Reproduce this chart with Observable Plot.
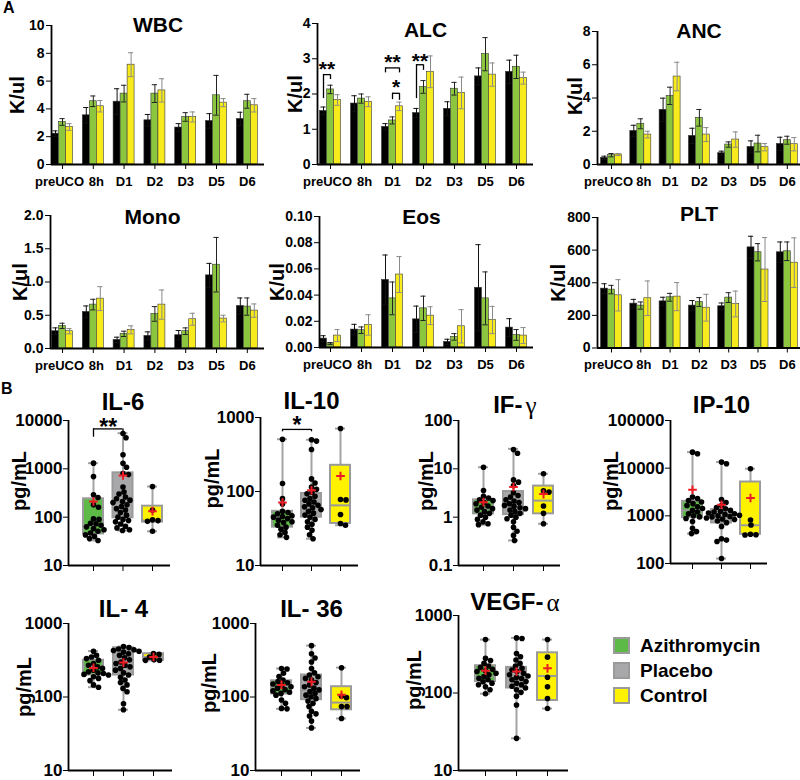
<!DOCTYPE html>
<html><head><meta charset="utf-8">
<script src="https://cdn.jsdelivr.net/npm/d3@7"></script>
<script src="https://cdn.jsdelivr.net/npm/@observablehq/plot@0.6"></script>
<style>
html,body{margin:0;padding:0;background:#fff;overflow:hidden;}
#fig{position:relative;width:800px;height:780px;overflow:hidden;font-family:"Liberation Sans",Arial,sans-serif;font-weight:bold;color:#000;}
.lab{position:absolute;font-size:16px;line-height:16px;}
.leg{position:absolute;display:flex;align-items:center;font-size:19px;line-height:19px;}
.sw{width:13px;height:13px;border:2px solid #9a9a9a;margin-right:10px;}
</style></head><body><div id="fig"></div>
<script>
// ---------- Panel A data ----------
const times = ["preUCO","8h","D1","D2","D3","D5","D6"];
const barSeries = ["Placebo","Azithromycin","Control"];
const barColors = ["#000000","#8cc63f","#f7ea1d"];
const errColors = ["#111111","#222222","#8a8a8a"];

const wbcMean = [[2.22,3.06,2.70],[3.54,4.55,4.19],[4.52,5.10,7.18],[3.18,5.10,5.33],[2.66,3.42,3.42],[3.13,4.98,4.45],[3.28,4.55,4.26]];
const wbcErr  = [[0.20,0.24,0.24],[0.56,0.38,0.41],[0.93,0.60,0.86],[0.42,0.64,0.84],[0.28,0.31,0.36],[0.53,1.43,0.29],[0.48,0.50,0.48]];
const alcMean = [[1.52,2.13,1.83],[1.73,1.87,1.78],[1.07,1.25,1.65],[1.46,2.20,2.63],[1.58,2.15,2.03],[2.50,3.13,2.55],[2.63,2.77,2.45]];
const alcErr  = [[0.11,0.12,0.15],[0.22,0.13,0.14],[0.09,0.10,0.12],[0.13,0.18,0.45],[0.20,0.18,0.45],[0.24,0.47,0.33],[0.33,0.33,0.17]];
const ancMean = [[0.40,0.56,0.60],[2.02,2.45,1.80],[3.29,4.13,5.29],[1.72,2.81,1.80],[0.68,1.20,1.50],[1.06,1.26,1.04],[1.24,1.46,1.22]];
const ancErr  = [[0.10,0.10,0.06],[0.34,0.30,0.20],[0.70,0.52,0.86],[0.46,0.50,0.42],[0.12,0.16,0.46],[0.36,0.50,0.22],[0.40,0.24,0.40]];
const monoMean = [[0.26,0.34,0.26],[0.55,0.66,0.75],[0.13,0.22,0.28],[0.19,0.52,0.66],[0.20,0.26,0.44],[1.10,1.26,0.45],[0.64,0.63,0.57]];
const monoErr  = [[0.05,0.04,0.04],[0.09,0.08,0.18],[0.04,0.04,0.06],[0.06,0.11,0.22],[0.07,0.05,0.09],[0.18,0.41,0.05],[0.12,0.13,0.10]];
const eosMean = [[0.0068,0.0030,0.0091],[0.0137,0.0132,0.0172],[0.0516,0.0375,0.0557],[0.0215,0.0299,0.0243],[0.0043,0.0081,0.0162],[0.0456,0.0375,0.0210],[0.0152,0.0096,0.0091]];
const eosErr  = [[0.0022,0.0008,0.0046],[0.0040,0.0025,0.0078],[0.0190,0.0125,0.0137],[0.0101,0.0093,0.0068],[0.0020,0.0025,0.0127],[0.0329,0.0202,0.0104],[0.0068,0.0041,0.0061]];
const pltMean = [[364,358,323],[272,260,305],[286,311,315],[260,282,247],[256,309,270],[617,587,481],[587,593,523]];
const pltErr  = [[30,26,96],[26,22,106],[25,24,86],[31,27,82],[20,30,79],[68,53,196],[63,57,152]];

// ALC significance brackets (series index a -> b, values in K/ul)
const alcSig = [
  {time:"preUCO", a:0, b:1, y:2.55, ya:1.87, yb:2.41, ty:2.84, label:"**"},
  {time:"D1", a:0, b:2, y:2.74, ya:2.60, yb:2.60, ty:3.04, label:"**"},
  {time:"D1", a:1, b:2, y:2.02, ya:1.84, yb:1.82, ty:2.33, label:"*"},
  {time:"D2", a:0, b:1, y:2.83, ya:1.87, yb:2.67, ty:3.06, label:"**"}
];

// ---------- Panel B data ----------
const boxGroups = ["Azithromycin","Placebo","Control"];
const boxFills = ["#5dba47","#a8a8aa","#fff200"];

const il6Azi = [1310,690,290,255,180,160,92,90,75,73,68,63,58,55,51,47,43,40,36,33];
const il6Pla = [5400,4400,1950,1300,1080,800,760,420,330,300,260,240,225,210,200,180,165,150,140,125,110,100,90,85,80,72,65,60,55,53];
const il6Ctl = [430,140,88,85,82,51];
const il6Stats = [[33,45,68,240,1310,211],[53,97,200,826,5470,728],[51,79,85,169,430,133]];
const il6Sig = [{a:0,b:1,y:6700,ya:4500,yb:5400,ty:9300,label:"**"}];

const il10Azi = [509,128,80,68,54,52,50,47,46,45,43,41,39,38,35,33,31,28,26,24];
const il10Pla = [500,480,370,148,130,115,107,98,93,86,80,76,72,68,65,62,60,57,54,51,48,45,42,39,36,33,30,26,23];
const il10Ctl = [710,78,77,49,37,35];
const il10Stats = [[24,33,45,54,509,71],[23,45,65,94,500,104],[35,37,65,226,710,162]];
const il10Sig = [{a:0,b:1,y:690,ya:640,yb:640,ty:930,label:"*"}];

const ifgAzi = [10.8,3.56,2.7,2.5,2.3,2.2,2.0,1.9,1.7,1.6,1.5,1.4,1.3,1.2,1.1,1.0,0.9,0.8,0.73,0.7];
const ifgPla = [25,21,5.9,5.3,4.5,3.2,2.8,2.6,2.3,2.15,2.0,1.9,1.75,1.67,1.57,1.5,1.4,1.3,1.2,1.1,1.0,0.93,0.8,0.62,0.51,0.42,0.33];
const ifgCtl = [7.9,3.5,3.3,1.7,1.2,0.73];
const ifgStats = [[0.7,1.17,1.5,2.28,10.8,2.04],[0.33,1.13,1.9,3.4,25.9,4.2],[0.73,1.17,2.2,4.4,7.9,3.0]];

const ip10Azi = [21700,20000,2480,2300,2100,1950,1800,1650,1550,1420,1300,1200,1100,1000,950,880,760,550,470,424];
const ip10Pla = [13400,12400,2200,1900,1650,1500,1400,1300,1250,1200,1150,1100,1070,1030,1000,970,950,900,860,840,780,720,600,330,310,290,127];
const ip10Ctl = [9700,820,640,410,400,395];
const ip10Stats = [[424,916,1300,2013,21700,3530],[127,708,1070,1350,13400,1710],[395,410,634,5120,9730,2370]];

const il4Azi = [420,368,350,333,316,285,270,257,245,232,220,213,209,203,199,189,179,167,146,136];
const il4Pla = [486,470,450,440,430,420,408,388,368,342,320,300,285,270,257,245,232,213,199,185,170,157,146,131,118,81,67];
const il4Ctl = [390,380,350,320,316,315];
const il4Stats = [[136,199,262,316,421,249],[67,199,300,467,486,294],[315,316,350,388,395,350]];

const il36Azi = [244,240,210,190,170,162,156,150,144,138,132,126,121,116,112,106,91,82,70,69];
const il36Pla = [500,387,340,300,244,213,199,189,179,170,157,146,138,132,125,119,112,106,101,95,88,82,74,64,59,55,47,38];
const il36Ctl = [250,102,98,74,74,51];
const il36Stats = [[69,110,138,166,244,146],[38,92,125,199,500,161],[51,67,84,138,251,107]];

const vegfAzi = [489,280,262,241,223,214,202,194,189,180,172,163,155,148,140,134,128,120,110,98];
const vegfPla = [514,504,324,293,267,241,223,209,198,189,180,172,166,160,154,148,141,134,128,122,116,110,102,91,70,26];
const vegfCtl = [490,290,160,120,85,63];
const vegfStats = [[98,141,163,225,489,194],[26,116,163,214,514,189],[63,80,166,330,489,208]];

// ---------- helpers ----------
const fig = document.getElementById("fig");
const FONT = '"Liberation Sans", Arial, Helvetica, sans-serif';
function place(el, box){ el.style.position="absolute"; el.style.left=box.left+"px"; el.style.top=box.top+"px"; fig.appendChild(el); }
function margins(box, f){ return {marginLeft:f.x0-box.left, marginRight:box.left+box.width-f.x1, marginTop:f.y0-box.top, marginBottom:box.top+box.height-f.y1}; }

function barPanel(p){
  const period = p.period;
  const xDomain = [(p.frame.x0-p.c0)/period, (p.frame.x1-p.c0)/period];
  const bw = 7/period, cap = 2.6/period;
  const rows = [];
  times.forEach((t,gi)=>barSeries.forEach((s,si)=>rows.push({time:t, series:s, gi, si, mean:p.means[gi][si], err:p.errs[gi][si]})));
  const xa = d=>d.gi+(d.si-1.5)*bw, xb = d=>d.gi+(d.si-0.5)*bw, xc = d=>d.gi+(d.si-1)*bw;
  const labels = times.map((t,i)=>({t,i}));
  const lab = {x:"i", text:"t", frameAnchor:"bottom", lineAnchor:"top", dy:12, fontSize:13, fontWeight:"bold"};
  const marks = [
    Plot.rect(rows,{x1:xa, x2:xb, y1:()=>0, y2:"mean", fill:d=>barColors[d.si], stroke:"#3a3a3a", strokeWidth:0.6}),
    Plot.ruleX(rows,{x:xc, y1:d=>d.mean-d.err, y2:d=>d.mean+d.err, stroke:d=>errColors[d.si], strokeWidth:1}),
    Plot.ruleY(rows,{y:d=>d.mean+d.err, x1:d=>xc(d)-cap, x2:d=>xc(d)+cap, stroke:d=>errColors[d.si], strokeWidth:1}),
    Plot.ruleY(rows,{y:d=>d.mean-d.err, x1:d=>xc(d)-cap, x2:d=>xc(d)+cap, stroke:d=>errColors[d.si], strokeWidth:1}),
    Plot.ruleY([p.yDomain[0]],{stroke:"#000", strokeWidth:1.8}),
    Plot.ruleX([xDomain[0]],{stroke:"#000", strokeWidth:1.8}),
    Plot.text(labels.filter(d=>d.i===0),{...lab, dx:-3}),
    Plot.text(labels.filter(d=>d.i===1),{...lab, dx:3}),
    Plot.text(labels.filter(d=>d.i>1),lab),
    Plot.text([p.title],{frameAnchor:"top", text:d=>d, fontSize:21, fontWeight:"bold", lineAnchor:"middle", dx:p.tdx||0, dy:p.tdy||0}),
    Plot.text(["K/ul"],{frameAnchor:"left", text:d=>d, rotate:-90, textAnchor:"middle", lineAnchor:"middle", fontSize:20, fontWeight:"bold", dx:p.ldx, dy:p.ldy||0})
  ];
  if (p.sig){
    const sig = p.sig.map(d=>({...d, gi:times.indexOf(d.time)}));
    const sx = (d,s)=>d.gi+(s-1)*bw;
    marks.push(
      Plot.ruleY(sig,{y:"y", x1:d=>sx(d,d.a), x2:d=>sx(d,d.b), stroke:"#000", strokeWidth:1.3}),
      Plot.ruleX(sig,{x:d=>sx(d,d.a), y1:"ya", y2:"y", stroke:"#000", strokeWidth:1.3}),
      Plot.ruleX(sig,{x:d=>sx(d,d.b), y1:"yb", y2:"y", stroke:"#000", strokeWidth:1.3}),
      Plot.text(sig,{x:d=>(sx(d,d.a)+sx(d,d.b))/2, y:"ty", text:"label", fontSize:21, fontWeight:"bold", lineAnchor:"middle", dy:5})
    );
  }
  const svg = Plot.plot({
    width:p.box.width, height:p.box.height, ...margins(p.box,p.frame),
    x:{type:"linear", domain:xDomain, ticks:d3.range(times.length), tickFormat:()=>"", tickSize:5, label:null},
    y:{type:"linear", domain:p.yDomain, ticks:p.yTicks, tickFormat:p.fmt, tickSize:5, tickPadding:2, label:null},
    color:{type:"identity"},
    style:{fontFamily:FONT, fontWeight:"bold", fontSize:"14px", background:"transparent", overflow:"visible", color:"#000"},
    marks
  });
  place(svg,p.box);
}

function swarm(vals, yPix, r){
  const idx = d3.range(vals.length).sort((a,b)=>vals[b]-vals[a]);
  const placed = [], out = new Array(vals.length), dmin = 2*r*0.92;
  for (const i of idx){
    const y = yPix(vals[i]);
    let x = 0;
    for (let k=0;k<400;k++){
      const c = (k%2?1:-1)*Math.ceil(k/2)*0.5;
      if (placed.every(p=>(p.x-c)**2+(p.y-y)**2 >= dmin*dmin)){ x = c; break; }
    }
    placed.push({x,y}); out[i]=x;
  }
  return out;
}

function boxPanel(p){
  const period = p.period;
  const xDomain = [(p.frame.x0-p.c0)/period, (p.frame.x1-p.c0)/period];
  const yPix = d3.scaleLog().domain(p.yDomain).range([p.frame.y1, p.frame.y0]);
  const half = 10/period, capw = 5/period, R = 2.8;
  const points = [];
  p.pts.forEach((vals,g)=>{ const off = swarm(vals,yPix,R); vals.forEach((v,i)=>points.push({g, group:boxGroups[g], v, xo:off[i]/period})); });
  const boxes = p.stats.map((s,g)=>({g, group:boxGroups[g], min:s[0], q1:s[1], med:s[2], q3:s[3], max:s[4], mean:s[5]}));
  const marks = [
    Plot.ruleX(boxes,{x:"g", y1:"min", y2:"max", stroke:"#a3a3a3", strokeWidth:2}),
    Plot.ruleY(boxes,{y:"max", x1:d=>d.g-capw, x2:d=>d.g+capw, stroke:"#a3a3a3", strokeWidth:2}),
    Plot.ruleY(boxes,{y:"min", x1:d=>d.g-capw, x2:d=>d.g+capw, stroke:"#a3a3a3", strokeWidth:2}),
    Plot.rect(boxes,{x1:d=>d.g-half, x2:d=>d.g+half, y1:"q1", y2:"q3", fill:d=>boxFills[d.g], stroke:"#9a9a9a", strokeWidth:2}),
    Plot.ruleY(boxes,{y:"med", x1:d=>d.g-half, x2:d=>d.g+half, stroke:"#9a9a9a", strokeWidth:2}),
    Plot.dot(points,{x:d=>d.g+d.xo, y:"v", r:R, fill:"#000"}),
    Plot.dot(boxes,{x:"g", y:"mean", symbol:"plus", r:2.9, stroke:"#ed1c24", strokeWidth:2}),
    Plot.ruleY([p.yDomain[0]],{stroke:"#000", strokeWidth:1.8}),
    Plot.ruleX([xDomain[0]],{stroke:"#000", strokeWidth:1.8}),
    Plot.text(["pg/mL"],{frameAnchor:"left", text:d=>d, rotate:-90, textAnchor:"middle", lineAnchor:"middle", fontSize:20, fontWeight:"bold", dx:p.ldx, dy:p.ldy||0})
  ];
  if (p.greek){
    marks.push(
      Plot.text([{t:p.title, g:1}],{x:"g", text:"t", frameAnchor:"top", textAnchor:"end", lineAnchor:"middle", fontSize:24, fontWeight:"bold", dx:p.gdx, dy:p.tdy}),
      Plot.text([{t:p.greek, g:1}],{x:"g", text:"t", frameAnchor:"top", textAnchor:"start", lineAnchor:"middle", fontSize:25, fontWeight:"normal", fontFamily:'"Liberation Serif","DejaVu Serif",serif', dx:p.gdx+3, dy:p.tdy})
    );
  } else {
    marks.push(Plot.text([{t:p.title, g:1}],{x:"g", text:"t", frameAnchor:"top", lineAnchor:"middle", fontSize:24, fontWeight:"bold", dy:p.tdy}));
  }
  if (p.sig){
    marks.push(
      Plot.ruleY(p.sig,{y:"y", x1:"a", x2:"b", stroke:"#000", strokeWidth:1.3}),
      Plot.ruleX(p.sig,{x:"a", y1:"ya", y2:"y", stroke:"#000", strokeWidth:1.3}),
      Plot.ruleX(p.sig,{x:"b", y1:"yb", y2:"y", stroke:"#000", strokeWidth:1.3}),
      Plot.text(p.sig,{x:d=>(d.a+d.b)/2, y:"ty", text:"label", fontSize:23, fontWeight:"bold", lineAnchor:"middle", dy:6})
    );
  }
  const svg = Plot.plot({
    width:p.box.width, height:p.box.height, ...margins(p.box,p.frame),
    x:{type:"linear", domain:xDomain, ticks:[0,1,2], tickFormat:()=>"", tickSize:6, label:null},
    y:{type:"log", domain:p.yDomain, ticks:p.yTicks, tickFormat:d=>String(d), tickSize:5, tickPadding:1, label:null},
    color:{type:"identity"},
    style:{fontFamily:FONT, fontWeight:"bold", fontSize:"17px", background:"transparent", overflow:"visible", color:"#000"},
    marks
  });
  place(svg,p.box);
}

// ---------- Panel A ----------
const fmt0 = d3.format("d"), fmt1 = d3.format(".1f"), fmt2 = d3.format(".2f");
const barPanels = [
  {title:"WBC", means:wbcMean, errs:wbcErr, yDomain:[0,10], yTicks:[0,2,4,6,8,10], fmt:fmt0,
   box:{left:0,top:0,width:268,height:192}, frame:{x0:51,x1:264,y0:25,y1:164}, c0:62, period:30.8, ldx:-34},
  {title:"ALC", means:alcMean, errs:alcErr, yDomain:[0,4], yTicks:[0,1,2,3,4], fmt:fmt0, sig:alcSig,
   box:{left:268,top:0,width:270,height:192}, frame:{x0:317,x1:533,y0:23,y1:164}, c0:330, period:31, ldx:-22, tdy:7},
  {title:"ANC", means:ancMean, errs:ancErr, yDomain:[0,8], yTicks:[0,2,4,6,8], fmt:fmt0,
   box:{left:540,top:0,width:260,height:192}, frame:{x0:597,x1:800,y0:31,y1:164}, c0:611, period:29.3, ldx:-22, ldy:-2},
  {title:"Mono", means:monoMean, errs:monoErr, yDomain:[0,2], yTicks:[0,0.5,1,1.5,2], fmt:fmt1,
   box:{left:0,top:192,width:268,height:183}, frame:{x0:50,x1:264,y0:215,y1:348}, c0:62, period:30.8, ldx:-30, tdx:-5, tdy:2},
  {title:"Eos", means:eosMean, errs:eosErr, yDomain:[0,0.1], yTicks:[0,0.02,0.04,0.06,0.08,0.1], fmt:fmt2,
   box:{left:268,top:192,width:270,height:183}, frame:{x0:319,x1:533,y0:216,y1:347}, c0:330, period:31, ldx:-42, tdx:-5, tdy:1},
  {title:"PLT", means:pltMean, errs:pltErr, yDomain:[0,800], yTicks:[0,200,400,600,800], fmt:fmt0,
   box:{left:540,top:192,width:260,height:183}, frame:{x0:597,x1:800,y0:217,y1:347.5}, c0:611, period:29.3, ldx:-39, tdy:-3}
];
barPanels.forEach(barPanel);

// ---------- Panel B ----------
const boxPanels = [
  {title:"IL-6", pts:[il6Azi,il6Pla,il6Ctl], stats:il6Stats, sig:il6Sig, yDomain:[10,10000], yTicks:[10,100,1000,10000],
   box:{left:0,top:378,width:190,height:200}, frame:{x0:68,x1:170,y0:420,y1:565}, c0:93, period:29.5, tdy:-18, ldx:-49, ldy:-12},
  {title:"IL-10", pts:[il10Azi,il10Pla,il10Ctl], stats:il10Stats, sig:il10Sig, yDomain:[10,1000], yTicks:[10,100,1000],
   box:{left:195,top:378,width:185,height:200}, frame:{x0:260,x1:358,y0:417,y1:565}, c0:282, period:29, tdy:-16, ldx:-48, ldy:-13},
  {title:"IF-", greek:"γ", gdx:9, pts:[ifgAzi,ifgPla,ifgCtl], stats:ifgStats, yDomain:[0.1,100], yTicks:[0.1,1,10,100],
   box:{left:390,top:378,width:190,height:200}, frame:{x0:458,x1:560,y0:420,y1:565}, c0:483, period:30, tdy:-15, ldx:-32, ldy:-12},
  {title:"IP-10", pts:[ip10Azi,ip10Pla,ip10Ctl], stats:ip10Stats, yDomain:[100,100000], yTicks:[100,1000,10000,100000],
   box:{left:590,top:378,width:210,height:200}, frame:{x0:670,x1:767,y0:420,y1:563}, c0:692, period:29, tdy:-15, ldx:-59, ldy:-11},
  {title:"IL- 4", pts:[il4Azi,il4Pla,il4Ctl], stats:il4Stats, yDomain:[10,1000], yTicks:[10,100,1000],
   box:{left:0,top:585,width:190,height:195}, frame:{x0:68,x1:172,y0:623,y1:770}, c0:93, period:30, tdy:-14, ldx:-44, ldy:-10},
  {title:"IL- 36", pts:[il36Azi,il36Pla,il36Ctl], stats:il36Stats, yDomain:[10,1000], yTicks:[10,100,1000],
   box:{left:190,top:585,width:190,height:195}, frame:{x0:255,x1:360,y0:623,y1:770}, c0:281, period:30, tdy:-14, ldx:-46, ldy:-14},
  {title:"VEGF-", greek:"α", gdx:27, pts:[vegfAzi,vegfPla,vegfCtl], stats:vegfStats, yDomain:[10,1000], yTicks:[10,100,1000],
   box:{left:390,top:585,width:200,height:195}, frame:{x0:458,x1:568,y0:615,y1:770}, c0:485, period:31, tdy:-13, ldx:-44, ldy:-13}
];
boxPanels.forEach(boxPanel);

// ---------- panel letters & legend ----------
function addDiv(cls, text, left, top){ const d=document.createElement("div"); d.className=cls; d.textContent=text; d.style.left=left+"px"; d.style.top=top+"px"; fig.appendChild(d); return d; }
addDiv("lab","A",3,0);
addDiv("lab","B",1,381);
boxGroups.forEach((g,i)=>{
  const row = document.createElement("div"); row.className="leg";
  row.style.left="613px"; row.style.top=(636+i*25)+"px";
  const sw=document.createElement("div"); sw.className="sw"; sw.style.background=boxFills[i];
  const tx=document.createElement("span"); tx.textContent=g;
  row.appendChild(sw); row.appendChild(tx); fig.appendChild(row);
});
</script></body></html>
